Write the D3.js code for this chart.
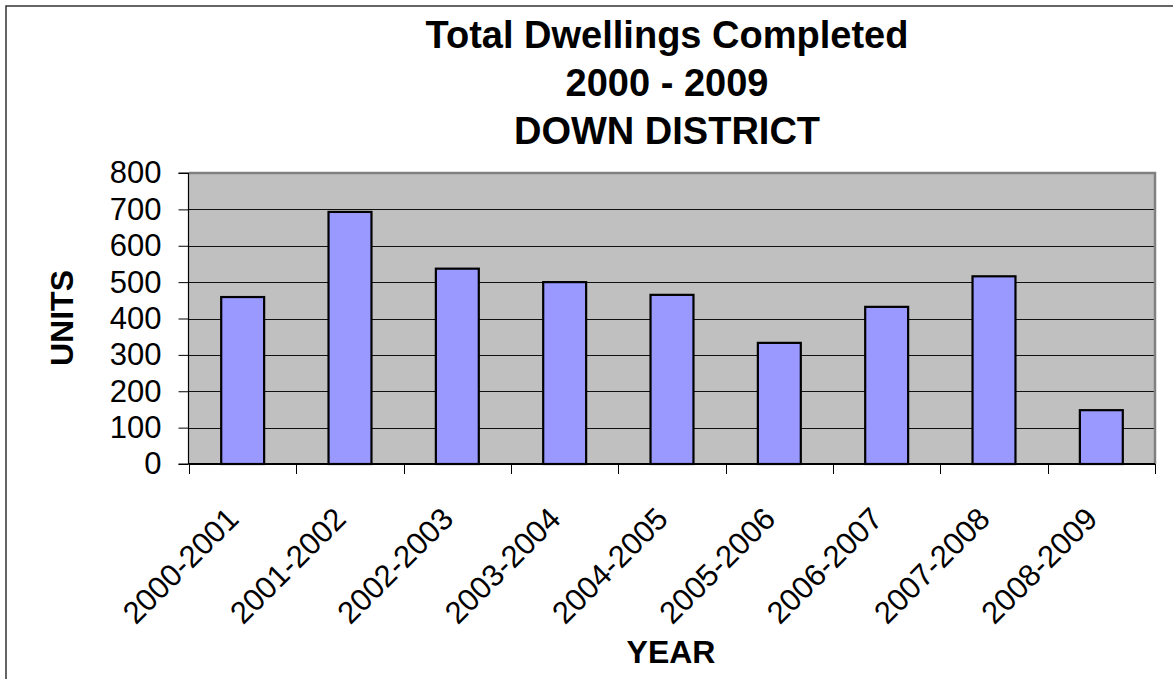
<!DOCTYPE html>
<html><head><meta charset="utf-8">
<script src="https://cdn.jsdelivr.net/npm/d3@7"></script>
<style>html,body{margin:0;padding:0;background:#fff;overflow:hidden}</style>
</head><body>
<svg id="chart" width="1173" height="679"></svg>
<script>
const categories = ["2000-2001","2001-2002","2002-2003","2003-2004","2004-2005","2005-2006","2006-2007","2007-2008","2008-2009"];
const units = [459, 693, 537, 500, 465, 333, 432, 516, 148];
const yTicks = [0, 100, 200, 300, 400, 500, 600, 700, 800];
const titleLines = ["Total Dwellings Completed", "2000 - 2009", "DOWN DISTRICT"];
const xTitle = "YEAR";
const yTitle = "UNITS";

const W = 1173, H = 679;
const plot = {left: 189, right: 1155, top: 173, bottom: 464};
const font = "'Liberation Sans', Arial, sans-serif";
const svg = d3.select("#chart");

// outer chart frame (cut off at right/bottom like the reference)
svg.append("path")
  .attr("d", `M6,${H+5} L6,6 L${W+5},6`)
  .attr("fill", "none").attr("stroke", "#333").attr("stroke-width", 1.5);

const x = d3.scaleBand().domain(categories).range([plot.left, plot.right])
  .paddingInner(0.6).paddingOuter(0.3);
const y = d3.scaleLinear().domain([0, 800]).range([plot.bottom, plot.top]);

// plot background
svg.append("rect").attr("x", plot.left).attr("y", plot.top)
  .attr("width", plot.right - plot.left).attr("height", plot.bottom - plot.top)
  .attr("fill", "#c0c0c0");

// gridlines
svg.append("g").selectAll("line").data(yTicks.filter(d => d > 0 && d < 800)).join("line")
  .attr("x1", plot.left).attr("x2", plot.right)
  .attr("y1", d => Math.round(y(d)) + 0.5).attr("y2", d => Math.round(y(d)) + 0.5)
  .attr("stroke", "#111").attr("stroke-width", 1);

// plot border top/right
svg.append("path")
  .attr("d", `M${plot.left},${plot.top} L${plot.right},${plot.top} L${plot.right},${plot.bottom}`)
  .attr("fill", "none").attr("stroke", "#808080").attr("stroke-width", 2.5);

// bars
svg.append("g").selectAll("rect").data(units).join("rect")
  .attr("x", (d, i) => x(categories[i]))
  .attr("width", x.bandwidth())
  .attr("y", d => y(d))
  .attr("height", d => y(0) - y(d))
  .attr("fill", "#9999ff").attr("stroke", "#000").attr("stroke-width", 2.2);

// y axis
const yAxis = d3.axisLeft(y).tickValues(yTicks).tickSize(10).tickPadding(17)
  .tickFormat(d3.format("d"));
const gy = svg.append("g").attr("transform", `translate(${plot.left - 0.5},0)`).call(yAxis);
gy.select(".domain").attr("stroke", "#000").attr("stroke-width", 1.2).attr("d", `M-10,${plot.top}H0V${plot.bottom}H-10`);
gy.selectAll(".tick line").attr("stroke", "#000");
gy.selectAll(".tick text").attr("font-family", font).attr("font-size", 31).attr("fill", "#000");

// x axis line and boundary ticks
const step = x.step();
const boundaries = categories.map(c => x(c) - (step - x.bandwidth()) / 2).concat([plot.right]);
svg.append("line").attr("x1", plot.left).attr("x2", plot.right)
  .attr("y1", plot.bottom).attr("y2", plot.bottom).attr("stroke", "#000").attr("stroke-width", 2);
svg.append("g").selectAll("line").data(boundaries).join("line")
  .attr("x1", d => Math.round(d) + 0.5).attr("x2", d => Math.round(d) + 0.5)
  .attr("y1", plot.bottom).attr("y2", plot.bottom + 10)
  .attr("stroke", "#000").attr("stroke-width", 1);

// x tick labels
svg.append("g").selectAll("text").data(categories).join("text")
  .attr("transform", d => `translate(${x(d) + x.bandwidth() / 2 - 8},${plot.bottom + 51}) rotate(-45)`)
  .attr("text-anchor", "end").attr("dominant-baseline", "middle")
  .attr("font-family", font).attr("font-size", 31).attr("fill", "#000")
  .text(d => d);

// titles
svg.append("g").selectAll("text").data(titleLines).join("text")
  .attr("x", 667).attr("y", (d, i) => 48 + i * 48)
  .attr("text-anchor", "middle").attr("font-family", font).attr("font-weight", "bold")
  .attr("font-size", 38).attr("fill", "#000").text(d => d);

svg.append("text").attr("x", 671).attr("y", 663).attr("text-anchor", "middle")
  .attr("font-family", font).attr("font-weight", "bold").attr("font-size", 32).text(xTitle);

svg.append("text").attr("transform", "translate(73,318) rotate(-90)").attr("text-anchor", "middle")
  .attr("font-family", font).attr("font-weight", "bold").attr("font-size", 32).text(yTitle);
</script>
</body></html>
